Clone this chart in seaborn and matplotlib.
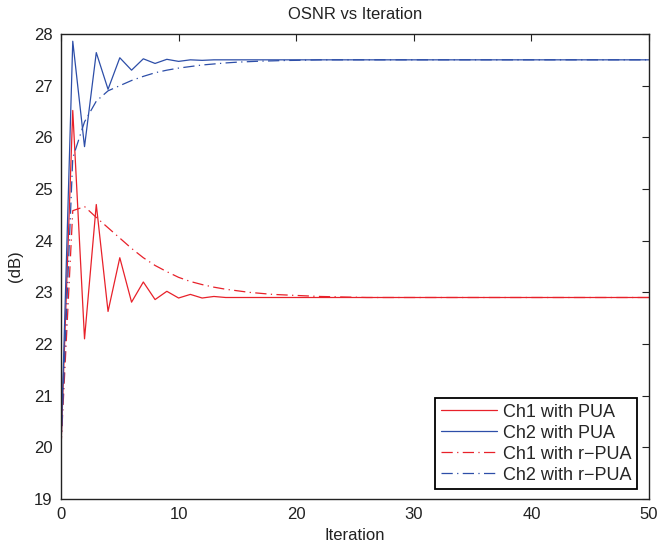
import numpy as np
import pandas as pd
import matplotlib
matplotlib.use("Agg")
import matplotlib.pyplot as plt
import seaborn as sns

iterations = list(range(0, 51))

ch1_pua_head = [20.0, 26.52, 22.10, 24.70, 22.63, 23.67, 22.81, 23.20, 22.86, 23.02,
                22.89, 22.96, 22.89, 22.92, 22.90]
ch2_pua_head = [20.0, 27.86, 25.82, 27.64, 26.93, 27.54, 27.30, 27.52, 27.43, 27.51,
                27.47, 27.50, 27.49, 27.50, 27.50]
ch1_rpua_head = [20.0, 24.58, 24.66, 24.45, 24.25, 24.05, 23.85, 23.67, 23.52, 23.40,
                 23.29, 23.21, 23.15, 23.10, 23.06, 23.03, 23.00, 22.98, 22.96, 22.95,
                 22.94, 22.93, 22.92, 22.915, 22.91, 22.905]
ch2_rpua_head = [20.0, 25.60, 26.30, 26.70, 26.90, 27.00, 27.10, 27.18, 27.25, 27.30,
                 27.34, 27.37, 27.40, 27.42, 27.44, 27.455, 27.465, 27.475, 27.48, 27.487,
                 27.49, 27.495, 27.50]

ch1_final = 22.90
ch2_final = 27.50

def pad(head, final):
    return head + [final] * (len(iterations) - len(head))

series = {
    "Ch1 with PUA": pad(ch1_pua_head, ch1_final),
    "Ch2 with PUA": pad(ch2_pua_head, ch2_final),
    "Ch1 with r\u2212PUA": pad(ch1_rpua_head, ch1_final),
    "Ch2 with r\u2212PUA": pad(ch2_rpua_head, ch2_final),
}

rows = []
for name, vals in series.items():
    for it, v in zip(iterations, vals):
        rows.append({"Iteration": it, "OSNR": v, "Series": name})
df = pd.DataFrame(rows)

sns.set_style("white")
plt.rcParams["font.family"] = ["Liberation Sans", "DejaVu Sans"]

red = "#e8212a"
blue = "#2d4ea8"
palette = {"Ch1 with PUA": red, "Ch2 with PUA": blue,
           "Ch1 with r\u2212PUA": red, "Ch2 with r\u2212PUA": blue}
dd = (9, 3.5, 1, 3.5)
dashes = {"Ch1 with PUA": "", "Ch2 with PUA": "",
          "Ch1 with r\u2212PUA": dd, "Ch2 with r\u2212PUA": dd}

fig = plt.figure(figsize=(6.58, 5.5), dpi=100)
ax = fig.add_axes([61/658, 1 - 499/550, (649 - 61)/658, (499 - 34)/550])

sns.lineplot(data=df, x="Iteration", y="OSNR", hue="Series", style="Series",
             palette=palette, dashes=dashes, linewidth=0.9, ax=ax,
             hue_order=list(series.keys()), style_order=list(series.keys()))

ax.set_xlim(0, 50)
ax.set_ylim(19, 28)
ax.set_xticks([0, 10, 20, 30, 40, 50])
ax.set_yticks(list(range(19, 29)))
ax.tick_params(direction="in", length=5, width=0.8, labelsize=12, top=True, right=True,
               colors="#222222", labelcolor="#222222", pad=6)
for s in ax.spines.values():
    s.set_linewidth(1.0)
    s.set_color("#222222")

ax.set_title("OSNR vs Iteration", fontsize=12, color="#222222", pad=11)
ax.set_xlabel("Iteration", fontsize=12, color="#222222", labelpad=4)
ax.set_ylabel("(dB)", fontsize=12, color="#222222", labelpad=8)

leg = ax.legend(loc="lower right", fontsize=13, frameon=True, fancybox=False,
                framealpha=1, edgecolor="black", handlelength=3.1,
                borderpad=0.3, labelspacing=0.22, handletextpad=0.35,
                borderaxespad=0, bbox_to_anchor=(0.9796, 0.0215))
leg.get_frame().set_linewidth(1.3)
for line in leg.get_lines():
    line.set_linewidth(0.9)

fig.savefig("out.png", dpi=100)
